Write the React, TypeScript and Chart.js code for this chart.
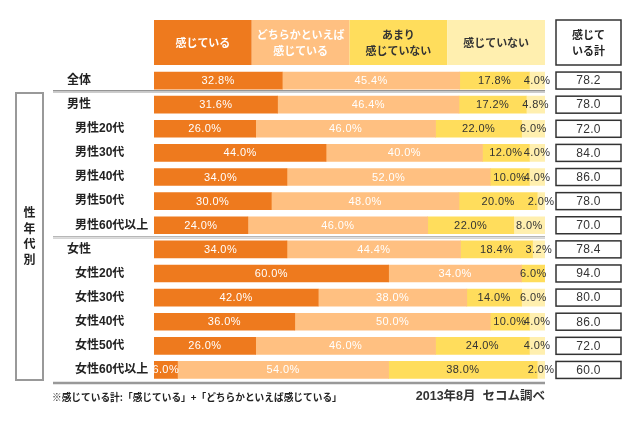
import React, { useEffect, useRef } from "react";
import { Chart, registerables } from "chart.js";

Chart.register(...registerables);

const categories = [
  "全体",
  "男性",
  "男性20代",
  "男性30代",
  "男性40代",
  "男性50代",
  "男性60代以上",
  "女性",
  "女性20代",
  "女性30代",
  "女性40代",
  "女性50代",
  "女性60代以上",
];
const feel = [32.8, 31.6, 26.0, 44.0, 34.0, 30.0, 24.0, 34.0, 60.0, 42.0, 36.0, 26.0, 6.0];
const ratherFeel = [45.4, 46.4, 46.0, 40.0, 52.0, 48.0, 46.0, 44.4, 34.0, 38.0, 50.0, 46.0, 54.0];
const notMuch = [17.8, 17.2, 22.0, 12.0, 10.0, 20.0, 22.0, 18.4, 6.0, 14.0, 10.0, 24.0, 38.0];
const notFeel = [4.0, 4.8, 6.0, 4.0, 4.0, 2.0, 8.0, 3.2, 0, 6.0, 4.0, 4.0, 2.0];
const totals = [78.2, 78.0, 72.0, 84.0, 86.0, 78.0, 70.0, 78.4, 94.0, 80.0, 86.0, 72.0, 60.0];
const seriesNames = ["感じている", "どちらかといえば\n感じている", "あまり\n感じていない", "感じていない"];
const seriesColors = ["#EE7A1E", "#FFC081", "#FFDD5C", "#FFEFAF"];
const labelColors = ["#FFFFFF", "#FFFFFF", "#333333", "#333333"];
const headerTextColors = ["#FFFFFF", "#FFFFFF", "#333333", "#333333"];
const totalHeader = "感じて\nいる計";
const groupLabel = "性年代別";
const footnote = "※感じている計:「感じている」+「どちらかといえば感じている」";
const source = "2013年8月  セコム調べ";

const FONT = '"Liberation Sans", "Noto Sans CJK JP", sans-serif';
const CJK = '"Noto Sans CJK JP", sans-serif';

const decorPlugin = {
  id: "decor",
  afterDatasetsDraw(chart: any) {
    const ctx = chart.ctx as any;
    ctx.save();
    ctx.textAlign = "center";
    ctx.textBaseline = "middle";
    ctx.font = `11px ${FONT}`;
    ctx.letterSpacing = "0.4px";
    chart.data.datasets.forEach((ds: any, di: number) => {
      const meta = chart.getDatasetMeta(di);
      meta.data.forEach((el: any, i: number) => {
        const v = ds.data[i];
        if (!v) return;
        ctx.fillStyle = labelColors[di];
        ctx.fillText(v.toFixed(1) + "%", (el.x + el.base) / 2, el.y + 0.5);
      });
    });
    ctx.restore();
  },
  afterDraw(chart: any) {
    const ctx = chart.ctx as any;
    const xs = chart.scales.x;
    const ys = chart.scales.y;
    const x100 = xs.getPixelForValue(100);
    ctx.save();

    // header boxes
    const hTop = 20;
    const hH = 45;
    seriesNames.forEach((name, i) => {
      const a = xs.getPixelForValue(i * 25);
      const b = xs.getPixelForValue((i + 1) * 25);
      ctx.fillStyle = seriesColors[i];
      ctx.fillRect(a, hTop, b - a, hH);
      ctx.fillStyle = headerTextColors[i];
      ctx.font = `bold 11px ${CJK}`;
      ctx.textAlign = "center";
      ctx.textBaseline = "middle";
      const lines = name.split("\n");
      const cy = hTop + hH / 2;
      lines.forEach((ln, k) => {
        const y = cy + (k - (lines.length - 1) / 2) * 16;
        ctx.fillText(ln, (a + b) / 2, y);
      });
    });

    // total header
    const bx = 556;
    const bw = 65;
    ctx.fillStyle = "#FFFFFF";
    ctx.fillRect(bx, hTop, bw, hH);
    ctx.strokeStyle = "#333333";
    ctx.lineWidth = 1.5;
    ctx.strokeRect(bx, hTop, bw, hH);
    ctx.fillStyle = "#222222";
    ctx.font = `bold 11px ${CJK}`;
    const tl = totalHeader.split("\n");
    tl.forEach((ln, k) => {
      ctx.fillText(ln, bx + bw / 2, hTop + hH / 2 + (k - 0.5) * 16);
    });

    // category labels and total boxes
    categories.forEach((c, i) => {
      const y = ys.getPixelForValue(i);
      const indented = c.length > 2;
      ctx.textAlign = "left";
      ctx.fillStyle = "#222222";
      ctx.font = `bold 12px ${FONT}`;
      ctx.letterSpacing = "0px";
      ctx.fillText(c, indented ? 75 : 67, y);

      ctx.fillStyle = "#FFFFFF";
      ctx.fillRect(bx, y - 8.5, bw, 17);
      ctx.strokeStyle = "#333333";
      ctx.lineWidth = 1.5;
      ctx.strokeRect(bx, y - 8.5, bw, 17);
      ctx.fillStyle = "#333333";
      ctx.textAlign = "center";
      ctx.font = `12px ${FONT}`;
      ctx.letterSpacing = "0.3px";
      ctx.fillText(totals[i].toFixed(1), bx + bw / 2, y + 0.5);
    });
    ctx.letterSpacing = "0px";

    // separator lines
    const lineX0 = 53;
    const y1 = (ys.getPixelForValue(0) + ys.getPixelForValue(1)) / 2 - 1;
    ctx.strokeStyle = "#888888";
    ctx.lineWidth = 1;
    ctx.beginPath();
    ctx.moveTo(lineX0, y1 - 1);
    ctx.lineTo(x100, y1 - 1);
    ctx.stroke();
    ctx.strokeStyle = "#BBBBBB";
    ctx.lineWidth = 1.5;
    ctx.beginPath();
    ctx.moveTo(lineX0, y1 + 0.5);
    ctx.lineTo(x100, y1 + 0.5);
    ctx.stroke();

    const y2 = (ys.getPixelForValue(6) + ys.getPixelForValue(7)) / 2;
    ctx.strokeStyle = "#999999";
    ctx.lineWidth = 1;
    ctx.beginPath();
    ctx.moveTo(lineX0, y2 - 0.5);
    ctx.lineTo(x100, y2 - 0.5);
    ctx.stroke();
    ctx.strokeStyle = "#CCCCCC";
    ctx.beginPath();
    ctx.moveTo(lineX0, y2 + 1);
    ctx.lineTo(x100, y2 + 1);
    ctx.stroke();

    const y3 = chart.chartArea.bottom + 1;
    ctx.strokeStyle = "#999999";
    ctx.lineWidth = 2.5;
    ctx.beginPath();
    ctx.moveTo(lineX0, y3);
    ctx.lineTo(x100, y3);
    ctx.stroke();

    // group box
    ctx.strokeStyle = "#999999";
    ctx.lineWidth = 2;
    ctx.strokeRect(16, 93, 27, 287);
    ctx.fillStyle = "#222222";
    ctx.font = `bold 12px ${CJK}`;
    ctx.textAlign = "center";
    const chars = Array.from(groupLabel);
    chars.forEach((ch, k) => {
      ctx.fillText(ch, 29.5, 236 + (k - (chars.length - 1) / 2) * 15.5);
    });

    // footnote & source
    ctx.textAlign = "left";
    ctx.font = `bold 9.7px ${CJK}`;
    ctx.fillStyle = "#222222";
    ctx.fillText(footnote, 52, 397);
    ctx.textAlign = "right";
    ctx.font = `bold 12.5px ${FONT}`;
    ctx.fillStyle = "#333333";
    ctx.fillText(source, x100, 397);
    ctx.restore();
  },
};

export default function App() {
  const ref = useRef<HTMLCanvasElement | null>(null);
  useEffect(() => {
    if (!ref.current) return;
    const series = [feel, ratherFeel, notMuch, notFeel];
    const chart = new Chart(ref.current, {
      type: "bar",
      data: {
        labels: categories,
        datasets: series.map((d, i) => ({
          label: seriesNames[i],
          data: d,
          backgroundColor: seriesColors[i],
          borderWidth: 0,
          barThickness: 17,
        })),
      },
      options: {
        indexAxis: "y",
        responsive: false,
        animation: false,
        devicePixelRatio: 1,
        layout: { padding: { left: 154, right: 90, top: 68.5, bottom: 45 } },
        plugins: { legend: { display: false }, tooltip: { enabled: false } },
        scales: {
          x: { stacked: true, min: 0, max: 100, display: false },
          y: { stacked: true, display: false },
        },
      },
      plugins: [decorPlugin],
    });
    return () => chart.destroy();
  }, []);
  return (
    <div style={{ position: "absolute", left: 0, top: 0, width: 635, height: 427, background: "#fff" }}>
      <canvas ref={ref} width={635} height={427} style={{ width: 635, height: 427, display: "block" }} />
    </div>
  );
}
